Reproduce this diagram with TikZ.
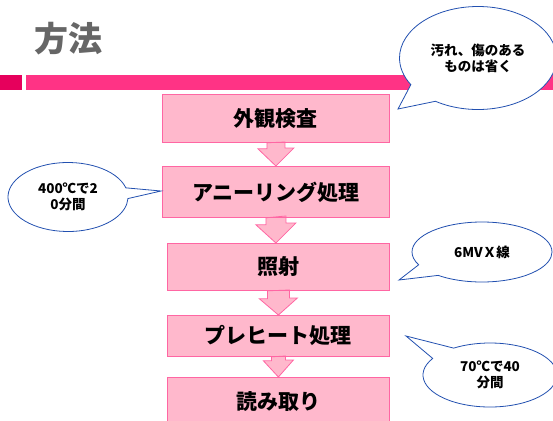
\documentclass[tikz,border=0pt]{standalone}
\usepackage{fontspec}
\setmainfont{Noto Sans CJK JP}
\usetikzlibrary{shapes.callouts,calc}
\definecolor{barpink}{HTML}{FF3385}
\definecolor{sqpink}{HTML}{E6005C}
\definecolor{boxfill}{HTML}{FFB8CC}
\definecolor{boxline}{HTML}{FF66A3}
\definecolor{callline}{HTML}{2250B0}
\definecolor{titlegray}{HTML}{666666}
\begin{document}
\begin{tikzpicture}[x=1pt,y=-1pt,
  stepbox/.style={draw=boxline, fill=boxfill, line width=0.8pt, anchor=north west,
    inner sep=0pt, font=\bfseries\fontsize{21}{24}\selectfont},
  blockarrow/.style={draw=boxline, fill=boxfill, line width=0.8pt, line join=miter},
  bubble/.style={ellipse callout, draw=callline, fill=white, line width=0.8pt,
    inner sep=0pt, align=center, callout pointer arc=26,
    font=\bfseries\fontsize{13.5}{16}\selectfont}]
\useasboundingbox (0,0) rectangle (553,420);
\clip (0,0) rectangle (553,420);
% title and bar
\node[anchor=west, text=titlegray, font=\bfseries\fontsize{34}{38}\selectfont, inner sep=0pt] (title) at (34,39) {方法};
\fill[sqpink] (0,75) rectangle (22,90);
\fill[barpink] (26,75) rectangle (553,90);
% boxes
\node[stepbox, minimum width=227pt, minimum height=48pt] (b1) at (162,94) {外観検査};
\node[stepbox, minimum width=227pt, minimum height=51pt] (b2) at (162,166) {アニーリング処理};
\node[stepbox, minimum width=222pt, minimum height=47pt] (b3) at (167,243) {照射};
\node[stepbox, minimum width=222pt, minimum height=41pt] (b4) at (167,315) {プレヒート処理};
\node[stepbox, minimum width=222pt, minimum height=48pt] (b5) at (167,377) {読み取り};
% block arrows
\path[blockarrow] ($(b1.south)+(-9,0)$) -- ++(0,6) -- ++(-9,0) -- (b1.south |- b2.north)
  -- ++(18,-18) -- ++(-9,0) -- ++(0,-6) -- cycle;
\path[blockarrow] ($(b2.south)+(-10,0)$) -- ++(0,7) -- ++(-10,0) -- (b2.south |- b3.north)
  -- ++(20,-20) -- ++(-10,0) -- ++(0,-7) -- cycle;
\path[blockarrow] ($(b3.south)+(-11,0)$) -- ++(0,8) -- ++(-8,0) -- (b3.south |- b4.north)
  -- ++(19,-17) -- ++(-8,0) -- ++(0,-8) -- cycle;
\path[blockarrow] ($(b4.south)+(-7,0)$) -- ++(0,4) -- ++(-8,0) -- (b4.south |- b5.north)
  -- ++(15,-17) -- ++(-8,0) -- ++(0,-4) -- cycle;
% redraw box borders over arrow joints
\foreach \b in {b1,b2,b3,b4}{\draw[boxline, line width=0.8pt] (\b.south west) -- (\b.south east);}
\foreach \b in {b2,b3,b4,b5}{\draw[boxline, line width=0.8pt] (\b.north west) -- (\b.north east);}
% callouts
\node[bubble, minimum width=157pt, minimum height=103pt, callout absolute pointer={(398,109)}] (c1) at (478,58) {汚れ、傷のある\\ものは省く};
\node[bubble, minimum width=120pt, minimum height=69pt, callout pointer arc=18, callout absolute pointer={(161,191)}] (c2) at (68,197) {400℃で2\\0分間};
\node[bubble, minimum width=140pt, minimum height=60pt, callout absolute pointer={(399,280)}] (c3) at (482,252) {6MVＸ線};
\node[bubble, minimum width=134pt, minimum height=64pt, callout absolute pointer={(406,336)}] (c4) at (490,375) {70℃で40\\分間};
\end{tikzpicture}
\end{document}
